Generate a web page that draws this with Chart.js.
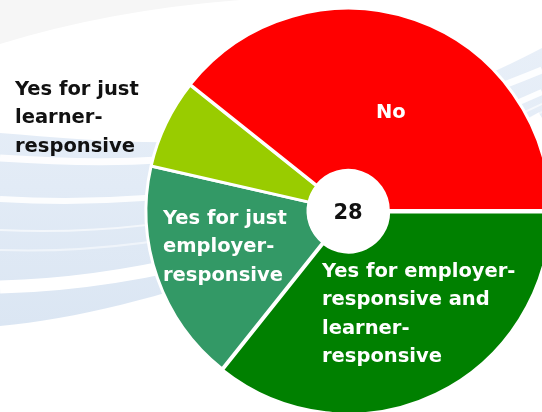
<!DOCTYPE html>
<html>
<head>
<meta charset="utf-8">
<script src="https://cdn.jsdelivr.net/npm/chart.js@4.4.1/dist/chart.umd.min.js"></script>
<style>
html, body { margin:0; padding:0; width:542px; height:412px; overflow:hidden; background:#ffffff; }
#wrap { position:relative; width:542px; height:412px; }
svg.bg { position:absolute; left:0; top:0; }
#chart { position:absolute; left:0; top:0; }
.lbl { position:absolute; font-family:"DejaVu Sans", sans-serif; font-weight:bold; font-size:19.5px; line-height:28.3px; white-space:nowrap; }
.w { color:#ffffff; }
.k { color:#111111; }
</style>
</head>
<body>
<div id="wrap">
<svg class="bg" width="542" height="412" xmlns="http://www.w3.org/2000/svg">
  <defs>
    <linearGradient id="g1" x1="0" y1="0" x2="0" y2="1">
      <stop offset="0" stop-color="#e8eff8"/>
      <stop offset="0.5" stop-color="#e2ebf6"/>
      <stop offset="1" stop-color="#dbe6f3"/>
    </linearGradient>
  </defs>
  <path d="M0,44 Q110,10 240,0 L0,0 Z" fill="#f6f6f6"/>
  <path d="M0,133 C150,145 320,165 542,48 L542,122 C350,240 150,312 0,326 Z" fill="url(#g1)"/>
  <path d="M0,158 C120,166 300,170 542,70" stroke="#ffffff" stroke-width="7" fill="none" opacity="0.9"/>
  <path d="M0,199 C120,206 300,200 542,92" stroke="#ffffff" stroke-width="6" fill="none" opacity="0.9"/>
  <path d="M0,230 C120,236 300,220 542,104" stroke="#ffffff" stroke-width="2" fill="none" opacity="0.6"/>
  <path d="M0,250 C120,254 300,235 542,112" stroke="#ffffff" stroke-width="2" fill="none" opacity="0.5"/>
  <path d="M0,287 C120,284 320,250 542,118" stroke="#ffffff" stroke-width="13" fill="none"/>
</svg>
<canvas id="chart" width="542" height="412"></canvas>

<div class="lbl k" style="left:15px; top:75px;">Yes for just<br>learner-<br>responsive</div>
<div class="lbl w" style="left:376px; top:98px;">No</div>
<div class="lbl w" style="left:163px; top:204px;">Yes for just<br>employer-<br>responsive</div>
<div class="lbl w" style="left:322px; top:257px;">Yes for employer-<br>responsive and<br>learner-<br>responsive</div>
<div class="lbl k" id="total" style="left:328px; top:198px; font-size:21px; width:40px; text-align:center;"></div>
</div>

<script>
// ---- data ----
const categories = [
  'Yes for employer-responsive and learner-responsive',
  'Yes for just employer-responsive',
  'Yes for just learner-responsive',
  'No'
];
const responseCounts = [10, 5, 2, 11];
const sliceColors = ['#008000', '#339966', '#99CC00', '#FF0000'];
const sliceOffsets = [4, 0, 0, 2];

const totalResponses = responseCounts.reduce((a, b) => a + b, 0);
document.getElementById('total').textContent = String(totalResponses);

const centerHole = {
  id: 'centerHole',
  afterDatasetsDraw(chart) {
    const arc = chart.getDatasetMeta(0).data[0];
    if (!arc) return;
    const ctx = chart.ctx;
    ctx.save();
    ctx.beginPath();
    ctx.arc(arc.x, arc.y, arc.innerRadius + 1, 0, Math.PI * 2);
    ctx.fillStyle = '#ffffff';
    ctx.fill();
    ctx.restore();
  }
};

new Chart(document.getElementById('chart'), {
  type: 'doughnut',
  data: {
    labels: categories,
    datasets: [{
      data: responseCounts,
      backgroundColor: sliceColors,
      borderColor: '#ffffff',
      borderWidth: 3,
      offset: sliceOffsets,
      clip: false
    }]
  },
  options: {
    responsive: false,
    animation: false,
    rotation: 90,
    radius: 202,
    cutout: '19.8%',
    layout: { padding: { left: 154, top: 10, right: 0, bottom: 0 } },
    plugins: { legend: { display: false }, tooltip: { enabled: false } }
  },
  plugins: [centerHole]
});
</script>
</body>
</html>
